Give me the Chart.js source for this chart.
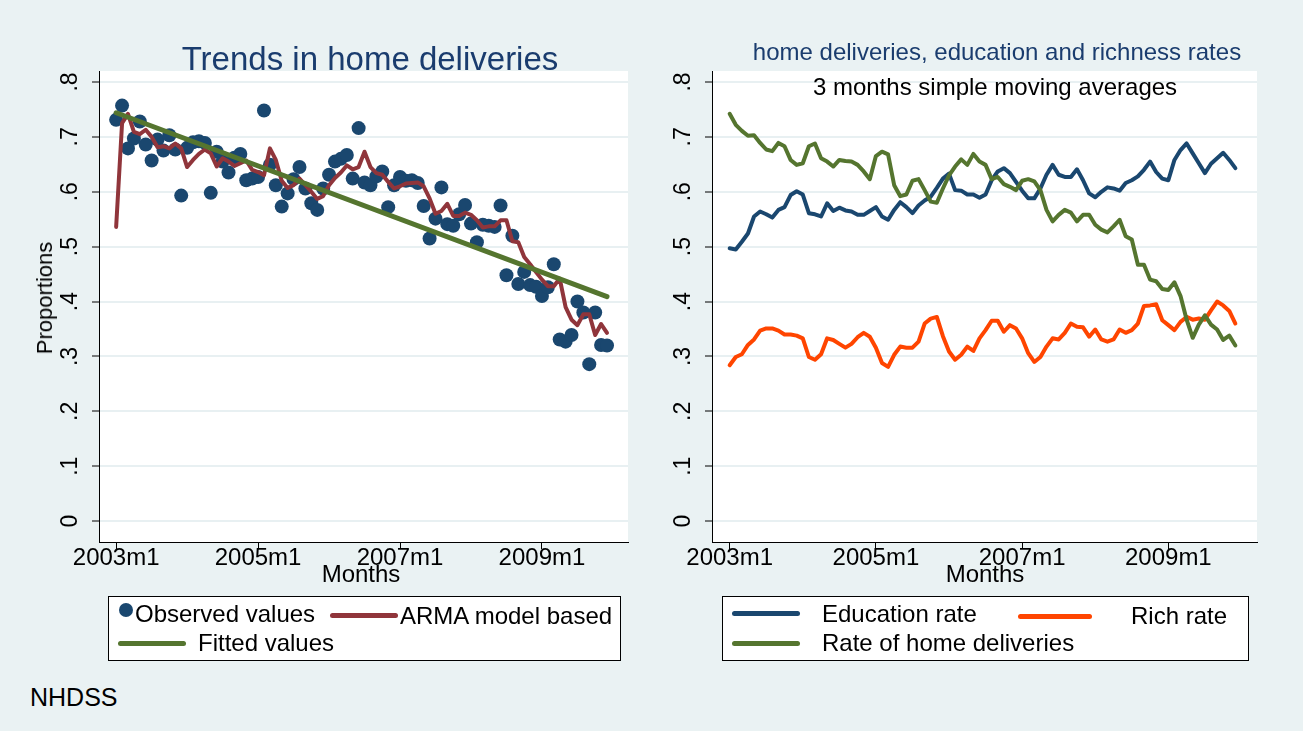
<!DOCTYPE html>
<html lang="en">
<head>
<meta charset="UTF-8">
<title>Trends in home deliveries</title>
<script src="https://cdn.jsdelivr.net/npm/chart.js"></script>
<style>
  body { margin: 0; background: #fff; }
  .geral { position: relative; width: 1303px; height: 731px; background: #EAF2F3;
           font-family: 'Liberation Sans', Arial, sans-serif; overflow: hidden; }
  canvas { position: absolute; top: 0; }
  .t { position: absolute; white-space: nowrap; line-height: 1; transform: translateY(-50%); z-index: 2; font-size: 24px; }
  .c { transform: translate(-50%, -50%); }
  .caixa { position: absolute; background: #fff; border: 1px solid #000; box-sizing: border-box; z-index: 1; }
  .amostra { position: absolute; height: 5px; border-radius: 3px; z-index: 2; }
  .ponto { position: absolute; width: 14px; height: 14px; border-radius: 50%; background: #1A476F; z-index: 2; }
</style>
</head>
<body>
<div class="geral">
  <canvas id="graficoEsq" width="650" height="600" style="left:0"></canvas>
  <canvas id="graficoDir" width="653" height="600" style="left:650px"></canvas>

  <div class="t c" style="left:370px; top:58px; font-size:33px; color:#1A3C6E">Trends in home deliveries</div>
  <div class="t c" style="left:997px; top:52px; color:#1A3C6E">home deliveries, education and richness rates</div>
  <div class="t c" style="left:995px; top:87px; color:#000">3 months simple moving averages</div>

  <div class="t c" style="left:361px; top:574px">Months</div>
  <div class="t c" style="left:985px; top:574px">Months</div>
  <div class="t" style="left:45px; top:298px; font-size:22px; transform:translate(-50%,-50%) rotate(-90deg)">Proportions</div>
  <div class="t" style="left:30px; top:697px; font-size:25px">NHDSS</div>

  <div class="caixa" style="left:108px; top:596px; width:513px; height:65px"></div>
  <div class="ponto" style="left:119px; top:603px"></div>
  <div class="t" style="left:135px; top:614px">Observed values</div>
  <div class="amostra" style="left:330px; top:613px; width:68px; background:#90353B"></div>
  <div class="t" style="left:400px; top:616px">ARMA model based</div>
  <div class="amostra" style="left:118px; top:641px; width:68px; background:#55752F"></div>
  <div class="t" style="left:198px; top:643px">Fitted values</div>

  <div class="caixa" style="left:722px; top:596px; width:527px; height:65px"></div>
  <div class="amostra" style="left:732px; top:611px; width:68px; background:#1A476F"></div>
  <div class="t" style="left:822px; top:614px">Education rate</div>
  <div class="amostra" style="left:1018px; top:614px; width:74px; background:#FF4500"></div>
  <div class="t" style="left:1131px; top:616px">Rich rate</div>
  <div class="amostra" style="left:732px; top:641px; width:68px; background:#55752F"></div>
  <div class="t" style="left:822px; top:643px">Rate of home deliveries</div>
</div>

<script>
  // meses 0 = 2003m1 ... 83 = 2009m12
  const mesesTick = [0, 24, 48, 72];
  const rotulosMes = ['2003m1', '2005m1', '2007m1', '2009m1'];
  const valoresY = [0, 0.1, 0.2, 0.3, 0.4, 0.5, 0.6, 0.7, 0.8];
  const rotulosY = ['0', '.1', '.2', '.3', '.4', '.5', '.6', '.7', '.8'];

  // painel esquerdo
  const observados = [
    0.731, 0.757, 0.679, 0.697, 0.728, 0.686, 0.657, 0.695, 0.675, 0.703, 0.677, 0.593,
    0.680, 0.690, 0.692, 0.689, 0.598, 0.673, 0.655, 0.635, 0.662, 0.669, 0.621, 0.624,
    0.627, 0.748, 0.649, 0.612, 0.573, 0.597, 0.623, 0.645, 0.606, 0.579, 0.567, 0.606,
    0.631, 0.655, 0.660, 0.667, 0.624, 0.716, 0.617, 0.612, 0.628, 0.637, 0.572, 0.612,
    0.627, 0.620, 0.621, 0.616, 0.574, 0.515, 0.551, 0.608, 0.541, 0.538, 0.559, 0.576,
    0.542, 0.508, 0.540, 0.538, 0.536, 0.575, 0.448, 0.520, 0.432, 0.454, 0.430, 0.427,
    0.410, 0.426, 0.468, 0.331, 0.327, 0.339, 0.400, 0.380, 0.286, 0.380, 0.321, 0.320
  ];
  const arma = [
    0.536, 0.725, 0.742, 0.709, 0.705, 0.713, 0.700, 0.681, 0.683, 0.679, 0.688, 0.679,
    0.645, 0.658, 0.669, 0.677, 0.670, 0.646, 0.661, 0.655, 0.647, 0.652, 0.657, 0.640,
    0.636, 0.630, 0.679, 0.658, 0.620, 0.607, 0.612, 0.624, 0.612, 0.600, 0.587, 0.592,
    0.612, 0.625, 0.635, 0.648, 0.641, 0.645, 0.673, 0.645, 0.634, 0.631, 0.618, 0.606,
    0.610, 0.615, 0.616, 0.617, 0.610, 0.588, 0.560, 0.565, 0.578, 0.556, 0.556, 0.562,
    0.558, 0.548, 0.535, 0.537, 0.537, 0.548, 0.548, 0.510, 0.508, 0.481, 0.468, 0.454,
    0.440, 0.428, 0.428, 0.442, 0.390, 0.367, 0.357, 0.377, 0.377, 0.339, 0.359, 0.343
  ];
  const mesesAjuste = [0, 83];
  const ajustados = [0.744, 0.409];

  // painel direito (medias moveis de 3 meses)
  const educacao = [
    0.497, 0.495, 0.509, 0.524, 0.555, 0.564, 0.559, 0.553, 0.567, 0.572, 0.594, 0.601,
    0.595, 0.561, 0.559, 0.555, 0.579, 0.565, 0.571, 0.566, 0.564, 0.558, 0.558, 0.565,
    0.572, 0.555, 0.549, 0.567, 0.581, 0.572, 0.561, 0.575, 0.584, 0.591, 0.607, 0.624,
    0.633, 0.603, 0.602, 0.595, 0.595, 0.589, 0.595, 0.621, 0.637, 0.643, 0.634, 0.618,
    0.602, 0.588, 0.588, 0.606, 0.631, 0.649, 0.631, 0.627, 0.627, 0.641, 0.621, 0.597,
    0.590, 0.600, 0.608, 0.606, 0.602, 0.616, 0.621, 0.628, 0.640, 0.655, 0.636, 0.624,
    0.621, 0.658, 0.676, 0.688, 0.670, 0.652, 0.634, 0.651, 0.661, 0.671, 0.658, 0.643
  ];
  const ricos = [
    0.284, 0.299, 0.304, 0.321, 0.331, 0.347, 0.351, 0.351, 0.347, 0.340, 0.340, 0.338,
    0.333, 0.299, 0.294, 0.304, 0.333, 0.330, 0.323, 0.316, 0.323, 0.335, 0.343, 0.336,
    0.316, 0.288, 0.281, 0.303, 0.318, 0.316, 0.316, 0.327, 0.360, 0.369, 0.372, 0.337,
    0.309, 0.294, 0.303, 0.318, 0.310, 0.333, 0.348, 0.365, 0.365, 0.345, 0.357, 0.351,
    0.333, 0.306, 0.290, 0.299, 0.318, 0.333, 0.331, 0.343, 0.360, 0.354, 0.353, 0.336,
    0.349, 0.331, 0.327, 0.331, 0.349, 0.343, 0.348, 0.360, 0.392, 0.393, 0.395, 0.366,
    0.357, 0.348, 0.363, 0.372, 0.367, 0.369, 0.367, 0.384, 0.400, 0.393, 0.383, 0.360
  ];
  const partosCasa = [
    0.742, 0.722, 0.711, 0.702, 0.703, 0.689, 0.677, 0.674, 0.689, 0.683, 0.658, 0.649,
    0.652, 0.683, 0.688, 0.661, 0.655, 0.646, 0.658, 0.656, 0.655, 0.649, 0.637, 0.623,
    0.665, 0.673, 0.668, 0.612, 0.592, 0.595, 0.620, 0.623, 0.603, 0.582, 0.580, 0.606,
    0.630, 0.646, 0.659, 0.649, 0.669, 0.655, 0.649, 0.623, 0.627, 0.614, 0.609, 0.603,
    0.620, 0.623, 0.619, 0.603, 0.567, 0.546, 0.558, 0.567, 0.562, 0.546, 0.558, 0.558,
    0.540, 0.531, 0.526, 0.537, 0.549, 0.519, 0.513, 0.467, 0.467, 0.440, 0.437, 0.423,
    0.421, 0.435, 0.410, 0.367, 0.334, 0.358, 0.375, 0.358, 0.349, 0.330, 0.338, 0.320
  ];

  const fonte = "'Liberation Sans', Arial, sans-serif";

  function pontos(valores, meses) {
    return valores.map(function (v, i) { return { x: meses ? meses[i] : i, y: v }; });
  }

  // rotulos do eixo y girados, como no Stata
  const rotulosGirados = {
    id: 'rotulosGirados',
    afterDraw(chart) {
      const ctx = chart.ctx;
      const escala = chart.scales.y;
      ctx.save();
      ctx.fillStyle = '#000';
      ctx.font = '23px ' + fonte;
      ctx.textAlign = 'center';
      ctx.textBaseline = 'middle';
      for (let i = 0; i < valoresY.length; i++) {
        const y = escala.getPixelForValue(valoresY[i]);
        ctx.save();
        ctx.translate(escala.right - 28, y);
        ctx.rotate(-Math.PI / 2);
        ctx.fillText(rotulosY[i], 0, 0);
        ctx.restore();
      }
      ctx.restore();
    }
  };

  const fundoBranco = {
    id: 'fundoBranco',
    beforeDraw(chart) {
      const a = chart.chartArea;
      chart.ctx.save();
      chart.ctx.fillStyle = '#fff';
      chart.ctx.fillRect(a.left, a.top, a.right - a.left, a.bottom - a.top);
      chart.ctx.restore();
    }
  };

  function escalas() {
    return {
      x: {
        type: 'linear', min: -2.9, max: 86.55,
        afterBuildTicks: function (s) { s.ticks = mesesTick.map(function (v) { return { value: v }; }); },
        afterFit: function (s) { s.height = 40; },
        ticks: {
          color: '#000', font: { family: fonte, size: 24 }, padding: -5, maxRotation: 0,
          callback: function (v) { return rotulosMes[mesesTick.indexOf(v)]; }
        },
        grid: { drawOnChartArea: false, tickColor: '#000', tickLength: 7, tickWidth: 1 },
        border: { color: '#000', width: 1 }
      },
      y: {
        type: 'linear', min: -0.038, max: 0.82,
        afterBuildTicks: function (s) { s.ticks = valoresY.map(function (v) { return { value: v }; }); },
        afterFit: function (s) { s.width = 30; },
        ticks: { display: false },
        grid: { color: '#E8F0F2', lineWidth: 2, tickColor: '#000', tickLength: 7, tickWidth: 1 },
        border: { color: '#000', width: 1 }
      }
    };
  }

  function opcoes(padding) {
    return {
      responsive: false,
      animation: false,
      devicePixelRatio: 1,
      layout: { padding: padding },
      plugins: { legend: { display: false }, tooltip: { enabled: false } },
      elements: { line: { tension: 0, borderJoinStyle: 'round', borderCapStyle: 'round' }, point: { radius: 0 } },
      scales: escalas()
    };
  }

  new Chart(document.getElementById('graficoEsq'), {
    type: 'line',
    data: {
      datasets: [
        { label: 'Observed values', data: pontos(observados), showLine: false,
          pointRadius: 7, pointBackgroundColor: '#1A476F', pointBorderWidth: 0, order: 3 },
        { label: 'ARMA model based', data: pontos(arma), borderColor: '#90353B', borderWidth: 4, order: 2 },
        { label: 'Fitted values', data: pontos(ajustados, mesesAjuste), borderColor: '#55752F', borderWidth: 5, order: 1 }
      ]
    },
    options: opcoes({ left: 69, right: 22, top: 71, bottom: 18 }),
    plugins: [fundoBranco, rotulosGirados]
  });

  new Chart(document.getElementById('graficoDir'), {
    type: 'line',
    data: {
      datasets: [
        { label: 'Education rate', data: pontos(educacao), borderColor: '#1A476F', borderWidth: 4, order: 3 },
        { label: 'Rich rate', data: pontos(ricos), borderColor: '#FF4500', borderWidth: 4, order: 2 },
        { label: 'Rate of home deliveries', data: pontos(partosCasa), borderColor: '#55752F', borderWidth: 4, order: 1 }
      ]
    },
    options: opcoes({ left: 32, right: 46, top: 71, bottom: 18 }),
    plugins: [fundoBranco, rotulosGirados]
  });
</script>
</body>
</html>
